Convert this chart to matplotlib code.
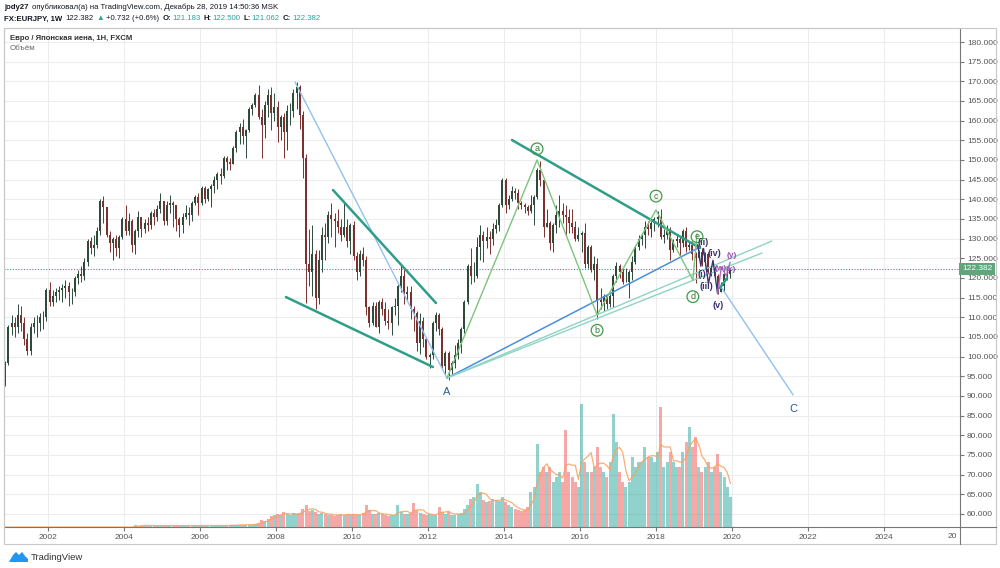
import matplotlib
matplotlib.use('Agg')
import matplotlib.pyplot as plt
import matplotlib.transforms as mtransforms
from matplotlib.patches import Rectangle, Polygon
from matplotlib.lines import Line2D
import numpy as np
import pandas as pd

plt.rcParams['font.family'] = ['Liberation Sans', 'DejaVu Sans']

# месячные свечи EUR/JPY, ноябрь 2000 - декабрь 2019
months = pd.date_range('2000-11-01', '2019-12-01', freq='MS')
first_open = 93.0
close = [
    98.5, 107.5,
    108.5, 107.5, 110.5, 108.5, 104.5, 101.5, 107.5, 108.5, 108.5, 110.0, 110.0, 117.0,
    114.0, 115.5, 116.5, 117.0, 117.5, 118.0, 116.5, 116.5, 120.0, 121.0, 120.5, 124.0,
    129.5, 127.5, 128.5, 132.0, 139.5, 138.0, 131.0, 129.0, 130.0, 127.5, 130.5, 135.0,
    132.0, 134.5, 128.5, 132.0, 135.5, 132.5, 134.0, 133.5, 136.5, 135.5, 137.5, 139.5,
    134.5, 138.5, 139.0, 138.5, 135.0, 133.5, 135.5, 136.5, 136.0, 139.0, 140.5, 139.0,
    143.0, 140.0, 142.5, 143.5, 145.0, 146.5, 146.0, 150.5, 149.5, 149.0, 153.0, 157.0,
    158.5, 156.0, 157.5, 163.0, 164.0, 166.5, 161.0, 159.0, 164.0, 166.5, 162.0, 163.5,
    158.5, 161.0, 157.0, 162.5, 162.5, 167.0, 168.5, 161.5, 150.5, 123.5, 121.5, 126.0,
    115.0, 124.5, 131.0, 130.5, 136.0, 135.0, 134.5, 133.0, 131.0, 133.0, 129.5, 133.5,
    125.5, 121.5, 126.0, 124.5, 112.5, 108.5, 113.0, 107.5, 114.0, 112.0, 109.0, 108.5,
    112.5, 113.0, 118.0, 120.5, 116.0, 116.5, 112.0, 111.0, 103.5, 109.0, 104.5, 100.0,
    100.5, 108.5, 110.5, 107.0, 97.5, 101.0, 96.5, 98.5, 100.5, 103.5, 107.0, 114.0,
    123.0, 120.5, 120.5, 128.0, 131.0, 129.5, 130.5, 130.0, 132.5, 133.5, 138.5, 145.0,
    138.5, 140.0, 142.0, 141.5, 139.0, 138.5, 138.0, 137.0, 138.5, 140.5, 147.5, 145.0,
    133.0, 134.0, 129.0, 133.5, 136.0, 137.0, 136.0, 135.5, 134.0, 133.0, 130.0, 131.0,
    131.5, 123.5, 128.0, 122.0, 123.5, 114.5, 114.0, 115.5, 113.5, 115.5, 120.5, 123.0,
    121.5, 119.0, 119.0, 121.5, 124.0, 128.0, 130.0, 131.0, 133.0, 132.5, 134.0, 135.0,
    135.5, 130.5, 131.0, 132.0, 127.0, 129.5, 130.0, 129.0, 132.0, 128.0, 128.5, 126.0,
    125.0, 126.5, 124.0, 126.0, 121.5, 122.5, 120.5, 116.5, 118.0, 121.0, 121.0, 122.382,
]
high = [
    99.0, 108.0,
    110.5, 110.0, 113.5, 113.0, 110.0, 106.0, 108.5, 110.0, 110.5, 111.0, 111.5, 117.5,
    119.0, 117.0, 117.5, 118.0, 118.5, 119.5, 119.0, 117.5, 120.5, 122.0, 123.0, 125.0,
    130.0, 130.5, 131.0, 133.0, 140.0, 140.8, 138.0, 132.0, 130.5, 131.0, 131.0, 135.5,
    138.5, 136.5, 135.0, 132.5, 137.0, 135.5, 135.0, 135.5, 137.0, 137.5, 138.5, 141.5,
    139.5, 139.5, 141.0, 139.5, 138.5, 135.5, 136.5, 138.5, 138.0, 139.5, 141.0, 141.5,
    143.5, 143.5, 143.0, 144.0, 146.0, 147.0, 148.0, 151.0, 151.0, 150.5, 153.5, 157.5,
    159.5, 160.5, 158.0, 163.5, 164.5, 167.0, 169.0, 163.0, 165.0, 168.0, 168.5, 167.0,
    165.0, 161.5, 162.0, 164.0, 164.5, 168.0, 169.9, 169.0, 162.5, 151.5, 132.5, 133.5,
    127.0, 127.0, 133.0, 134.0, 137.0, 139.0, 136.5, 137.5, 135.0, 139.0, 135.0, 134.0,
    134.5, 126.5, 127.0, 128.0, 125.5, 113.0, 114.0, 114.0, 114.5, 115.0, 114.0, 112.0,
    113.0, 115.0, 118.5, 123.3, 122.5, 118.0, 118.0, 113.0, 111.5, 111.0, 110.0, 105.0,
    101.0, 109.0, 111.4, 111.0, 107.5, 101.5, 101.5, 99.0, 103.0, 104.5, 107.5, 114.5,
    123.5, 127.5, 124.0, 130.5, 133.5, 132.0, 133.0, 132.0, 134.0, 135.0, 139.0, 145.5,
    145.5, 141.0, 143.5, 143.0, 142.5, 139.5, 139.0, 138.5, 141.0, 141.0, 148.0, 149.8,
    145.5, 137.5, 134.5, 134.0, 138.5, 141.0, 139.0, 138.5, 137.5, 137.5, 134.5, 133.0,
    132.0, 134.0, 128.5, 128.5, 125.5, 125.0, 117.5, 116.0, 116.0, 116.0, 121.0, 124.0,
    123.5, 122.5, 122.5, 122.0, 125.5, 128.5, 131.0, 131.5, 134.5, 134.5, 134.5, 135.5,
    137.0, 137.5, 132.5, 133.5, 133.0, 130.0, 131.0, 130.5, 132.5, 133.0, 129.5, 129.5,
    126.5, 127.0, 127.5, 126.5, 126.5, 123.0, 123.0, 121.0, 119.0, 121.5, 122.5, 122.6,
]
low = [
    92.5, 98.0,
    105.5, 105.0, 106.0, 106.5, 103.0, 100.5, 100.5, 106.0, 105.0, 106.5, 107.0, 109.0,
    113.0, 113.0, 114.0, 114.5, 114.0, 115.0, 113.0, 113.5, 115.5, 118.5, 119.0, 119.5,
    123.0, 126.0, 125.5, 127.5, 131.0, 134.0, 130.5, 126.5, 124.5, 125.5, 125.0, 130.0,
    131.0, 131.0, 126.5, 126.0, 130.5, 130.5, 131.5, 132.0, 132.5, 133.5, 134.5, 136.5,
    133.5, 133.5, 136.5, 133.0, 132.0, 130.5, 131.5, 135.0, 133.5, 134.5, 138.5, 136.0,
    138.5, 139.0, 139.5, 138.0, 141.5, 142.5, 144.0, 145.5, 147.5, 147.5, 149.0, 152.0,
    154.0, 154.0, 150.5, 157.0, 161.5, 163.5, 160.5, 150.5, 155.5, 161.0, 157.5, 160.0,
    154.5, 155.0, 150.5, 152.5, 159.0, 161.0, 163.0, 158.0, 145.5, 113.6, 118.0, 115.5,
    112.1, 113.5, 121.5, 124.5, 129.0, 130.5, 128.0, 131.5, 129.5, 130.5, 128.0, 126.0,
    124.5, 119.5, 120.5, 123.0, 110.5, 107.5, 108.0, 107.5, 106.0, 110.5, 108.0, 107.0,
    105.5, 110.5, 108.0, 116.5, 113.5, 114.5, 109.5, 106.5, 101.5, 100.8, 102.5, 99.5,
    97.0, 99.5, 106.5, 105.5, 97.0, 95.5, 94.1, 95.5, 97.0, 99.5, 101.0, 106.0,
    113.5, 118.5, 119.0, 120.0, 124.5, 124.0, 127.5, 126.0, 128.5, 131.5, 132.0, 138.0,
    136.5, 137.5, 139.5, 140.0, 137.5, 137.5, 136.5, 136.0, 136.5, 133.5, 140.0, 143.5,
    130.5, 133.0, 127.0, 126.5, 131.5, 133.0, 134.0, 131.0, 131.5, 131.5, 129.5, 129.5,
    126.5, 122.5, 122.5, 121.5, 119.5, 109.5, 112.0, 111.5, 112.0, 112.5, 112.5, 119.0,
    120.0, 118.5, 119.0, 114.8, 119.5, 123.5, 127.0, 128.5, 127.5, 131.0, 130.5, 132.0,
    133.0, 130.0, 129.0, 130.0, 124.6, 126.5, 128.0, 125.5, 128.0, 126.5, 127.0, 124.5,
    118.7, 124.5, 123.0, 123.0, 121.0, 120.5, 120.0, 115.9, 116.5, 116.5, 119.5, 120.0,
]
volume = [
    0, 0,
    0, 0, 0, 0, 0, 0, 0, 0, 0, 0, 0, 0,
    0, 0, 0, 0, 0, 0, 0, 0, 0, 0, 0, 0,
    0, 0, 0, 0, 0, 0, 0, 0, 0, 0, 0, 0,
    0, 0, 0, 2, 1.5, 1.5, 1.5, 1.5, 1.5, 1.5, 1.5, 1.5,
    1.5, 1.5, 1.5, 1.5, 1.5, 1.5, 1.5, 1.5, 1.5, 1.5, 1.5, 1.5,
    1.5, 1.5, 1.5, 1.5, 1.5, 1.5, 1.5, 1.5, 1.5, 2, 2, 2,
    2, 2, 2.5, 2.5, 2.5, 3, 4, 7, 6, 8, 11, 12,
    13, 12, 15, 13, 12, 14, 13, 14, 18, 22, 16, 17,
    15, 13, 14, 13, 12, 12, 11, 12, 13, 12, 13, 12,
    13, 12, 12, 14, 22, 17, 13, 13, 14, 13, 12, 11,
    12, 12, 22, 15, 13, 13, 14, 24, 17, 14, 13, 12,
    13, 12, 12, 20, 15, 13, 15, 12, 12, 13, 14, 18,
    22, 28, 30, 43, 35, 27, 25, 26, 28, 27, 26, 30,
    25, 22, 20, 18, 17, 16, 17, 20, 35, 40, 83, 55,
    60, 55, 60, 45, 50, 55, 45, 97, 55, 50, 45, 40,
    123, 65, 55, 55, 60, 80, 60, 55, 50, 65, 113, 85,
    55, 45, 40, 45, 70, 60, 65, 65, 80, 70, 70, 65,
    75, 120, 60, 65, 75, 65, 60, 60, 75, 85, 100, 80,
    90, 60, 55, 60, 65, 55, 60, 73, 55, 50, 40, 30,
]

price_ticks = list(range(60, 185, 5))
year_ticks = list(range(2002, 2026, 2))
last_price = 122.382

# разметка (год, цена)
down_leg = [(2008.50, 169.83), (2012.50, 94.57)]
c_leg = [(2019.66, 118.47), (2021.61, 90.25)]
a_to_e_line = [(2012.50, 94.57), (2019.16, 127.88)]
thin_line_1 = [(2012.50, 94.57), (2021.05, 129.40)]
thin_line_2 = [(2012.50, 94.57), (2020.79, 126.35)]
wedge_low = [(2008.26, 115.16), (2012.13, 97.37)]
wedge_high = [(2009.50, 142.37), (2012.21, 113.64)]
triangle_top = [(2014.21, 155.08), (2019.16, 127.62)]
abcde = [(2012.50, 94.57), (2014.87, 150.0), (2016.45, 110.59),
         (2018.0, 137.3), (2018.97, 119.49), (2019.08, 131.2)]
abcde_names = ['a', 'b', 'c', 'd', 'e']
abcde_offsets = [(0, 8), (0, -11), (0, 10), (0, -12), (0, -2)]
wave_15 = [(2019.10, 128.5), (2019.18, 123.0), (2019.25, 127.5),
           (2019.38, 118.5), (2019.50, 124.5), (2019.62, 116.0)]
wave_wxy = [(2019.62, 116.0), (2019.72, 122.8), (2019.85, 120.5), (2019.95, 124.0)]
wave_c_start = [(2019.68, 117.45), (2019.87, 120.0)]
sub_labels = [('(ii)', 2019.24, 129.15), ('(iv)', 2019.53, 126.1), ('(i)', 2019.21, 121.0),
              ('(iii)', 2019.32, 117.96), ('(v)', 2019.63, 113.13)]
wxy_labels = [('(y)', 2020.0, 125.8), ('(w)', 2019.70, 122.54), ('(x)', 2019.98, 122.1)]

W, H = 1000, 568
fig = plt.figure(figsize=(W / 100, H / 100), dpi=100)
fig.patch.set_facecolor('white')

def fx(px):
    return px / W

def fy(py):
    return 1 - py / H

rect = [fx(4), fy(527), fx(960) - fx(4), fy(28) - fy(527)]
ax = fig.add_axes(rect)
ax_vol = fig.add_axes(rect)
ax_vol.patch.set_alpha(0)

t = months.year + (months.month - 1) / 12 + 1 / 24
opens = np.array([first_open] + close[:-1])
closes = np.array(close)
up = closes >= opens

# свечи
cols = np.where(up, '#2d4a3b', '#7d3030')
ax.vlines(t, low, high, colors=cols, lw=0.7, zorder=3)
ax.bar(t, closes - opens, bottom=opens, width=0.05, color=cols, zorder=3)

# объём
vol_cols = np.where(up, '#26a69a', '#ef5350')
ax_vol.bar(t, volume, width=1 / 12 * 0.95, color=vol_cols, alpha=0.5, lw=0)
vol_ma = pd.Series(volume).rolling(4, min_periods=1).mean()
ax_vol.plot(t, vol_ma, color='#f7a15e', lw=0.9, alpha=0.85)
ax_vol.set_ylim(0, 499)
ax_vol.axis('off')

for a in (ax, ax_vol):
    a.set_xlim(2000.842, 2026.0)
ax.set_ylim(56.69, 183.56)

ax.set_xticks(year_ticks)
ax.set_xticklabels([str(y) for y in year_ticks])
ax.yaxis.tick_right()
ax.set_yticks(price_ticks)
ax.set_yticklabels([f'{p:.3f}' for p in price_ticks])
ax.tick_params(axis='both', length=3, color='#777777', labelsize=6, labelcolor='#555555', pad=2)
ax.grid(color='#ededed', lw=0.8)
ax.set_axisbelow(True)
for s in ('left', 'top'):
    ax.spines[s].set_color('#c8c8c8')
    ax.spines[s].set_linewidth(0.8)
for s in ('right', 'bottom'):
    ax.spines[s].set_color('#777777')
    ax.spines[s].set_linewidth(0.8)

# текущая цена
ax.axhline(last_price, color='#26a69a', lw=0.8, ls=(0, (1, 1.5)), zorder=2)
ax.text(1.002, last_price, f'{last_price:.3f}',
        transform=mtransforms.blended_transform_factory(ax.transAxes, ax.transData),
        ha='left', va='center', color='white', fontsize=6,
        bbox=dict(boxstyle='square,pad=0.3', fc='#5fa67c', ec='none'), clip_on=False, zorder=10)

def seg(points, **kw):
    xs, ys = zip(*points)
    ax.plot(xs, ys, solid_capstyle='round', zorder=4, **kw)

seg(down_leg, color='#90c2ee', lw=1)
seg(c_leg, color='#90c2ee', lw=1)
seg(a_to_e_line, color='#4a8fdc', lw=1.1)
seg(thin_line_1, color='#8fd3c4', lw=1)
seg(thin_line_2, color='#8fd3c4', lw=1)
seg(wedge_low, color='#2e9e88', lw=1.8)
seg(wedge_high, color='#2e9e88', lw=1.8)
seg(triangle_top, color='#2e9e88', lw=1.8)
seg(abcde, color='#7cc47c', lw=1)
seg(wave_15, color='#3c3470', lw=1)
seg(wave_wxy, color='#b36ac0', lw=1)
seg(wave_c_start, color='#2e9e88', lw=1.8)

for name, (x, y), off in zip(abcde_names, abcde[1:], abcde_offsets):
    ax.annotate(name, (x, y), xytext=off, textcoords='offset points', ha='center', va='center',
                fontsize=6.5, color='#2e7d32', zorder=6,
                bbox=dict(boxstyle='circle,pad=0.15', fc='none', ec='#3f9b46', lw=0.9))

ax.annotate('A', abcde[0], xytext=(0, -10), textcoords='offset points', ha='center',
            va='center', fontsize=8, color='#2b5d99', zorder=6)
ax.annotate('C', c_leg[1], xytext=(0, -10), textcoords='offset points', ha='center',
            va='center', fontsize=8, color='#2b5d99', zorder=6)
for name, x, y in sub_labels:
    ax.text(x, y, name, ha='center', va='center', fontsize=6.5, color='#3a3270',
            fontweight='bold', zorder=7)
for name, x, y in wxy_labels:
    ax.text(x, y, name, ha='center', va='center', fontsize=6, color='#a04fb0',
            fontweight='bold', zorder=7)

# рамки
fig.add_artist(Rectangle((fx(4), fy(544)), fx(996) - fx(4), fy(28) - fy(544),
                         transform=fig.transFigure, fill=False, ec='#c8c8c8', lw=0.8))
fig.add_artist(Line2D([fx(960), fx(960)], [fy(544), fy(527)], color='#777777', lw=0.8))
fig.add_artist(Line2D([fx(960), fx(996)], [fy(527), fy(527)], color='#777777', lw=0.8))
fig.text(fx(957), fy(536), '20', ha='right', va='center', fontsize=6, color='#555555')

# заголовок
renderer = fig.canvas.get_renderer()

def header_line(y, parts, size):
    x = 4
    for s, color, weight, gap in parts:
        txt = fig.text(fx(x), fy(y), s, ha='left', va='center', fontsize=size,
                       color=color, fontweight=weight)
        x += txt.get_window_extent(renderer).width + gap

dark = '#131722'
teal = '#26a69a'
header_line(7.5, [('jody27', dark, 'bold', 3),
                  ('опубликовал(а) на TradingView.com, Декабрь 28, 2019 14:50:36 MSK', dark, 'normal', 0)], 5.6)
header_line(19, [('FX:EURJPY, 1W', dark, 'bold', 3), ('122.382', dark, 'normal', 2.5),
                 ('▲', teal, 'normal', 2.5), ('+0.732 (+0.6%)', dark, 'normal', 3),
                 ('O:', dark, 'bold', 1), ('121.183', teal, 'normal', 3),
                 ('H:', dark, 'bold', 1), ('122.500', teal, 'normal', 3),
                 ('L:', dark, 'bold', 1), ('121.062', teal, 'normal', 3),
                 ('C:', dark, 'bold', 1), ('122.382', teal, 'normal', 0)], 5.6)

fig.text(fx(10), fy(38), 'Евро / Японская иена, 1H, FXCM', ha='left', va='center',
         fontsize=5.6, color='#333333', fontweight='bold')
fig.text(fx(10), fy(49), 'Объём', ha='left', va='center', fontsize=5.8, color='#666666')

# логотип
logo = [(9, 562), (13, 555), (16, 552), (19, 555), (22, 552), (25, 556), (28, 559), (28, 562)]
fig.add_artist(Polygon([(fx(a), fy(b)) for a, b in logo], closed=True,
                       transform=fig.transFigure, fc='#2196f3', ec='none'))
fig.text(fx(31), fy(557), 'TradingView', ha='left', va='center', fontsize=6.8, color='#333333')

fig.savefig('out.png', dpi=100)
